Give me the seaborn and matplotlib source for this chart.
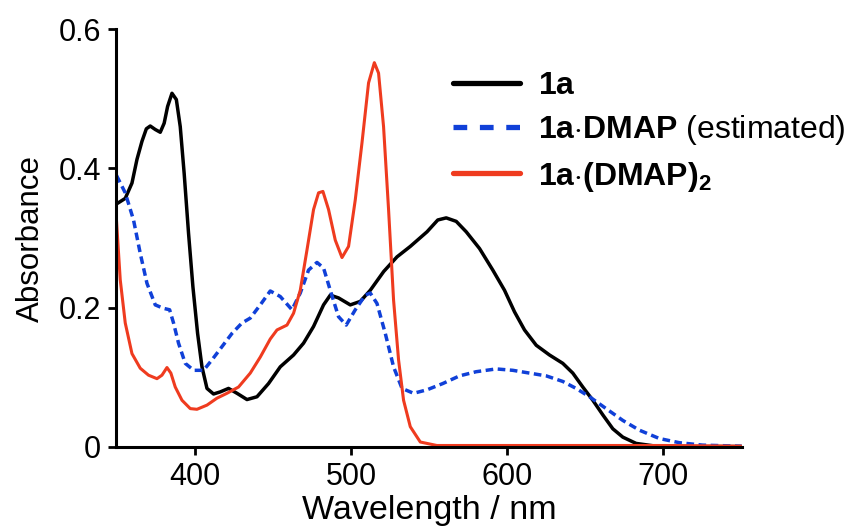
import numpy as np
import pandas as pd
import matplotlib
matplotlib.use("Agg")
import matplotlib.pyplot as plt
import seaborn as sns

## spectra (wavelength in nm, absorbance)
wl_1a = [350, 355.6, 359.9, 363.1, 366.3, 369.1, 371.6, 374.8, 378, 380.5, 382.7, 385.5,
         388.3, 390.8, 393.3, 396.1, 398.9, 401.9, 404.7, 407.9, 412.1, 416.4, 421.7, 427.1,
         433.5, 439.9, 447.3, 454.8, 463.3, 469.7, 476.1, 482.5, 486.8, 492.1, 499.6, 506,
         512.4, 521, 529.5, 538, 548.7, 555.6, 561, 567.4, 573.8, 582.3, 590.8, 598.3, 604.7,
         611.1, 618.6, 627.1, 635.6, 642, 648.4, 654.8, 661.2, 667.6, 674, 682.5, 695.3,
         720, 750]
abs_1a = [0.349, 0.357, 0.379, 0.413, 0.439, 0.457, 0.461, 0.456, 0.452, 0.465, 0.489, 0.508,
          0.499, 0.460, 0.393, 0.307, 0.230, 0.163, 0.115, 0.084, 0.076, 0.079, 0.084, 0.077,
          0.068, 0.072, 0.091, 0.115, 0.132, 0.149, 0.173, 0.204, 0.218, 0.214, 0.204, 0.209,
          0.225, 0.252, 0.273, 0.288, 0.309, 0.326, 0.329, 0.324, 0.309, 0.285, 0.254, 0.225,
          0.194, 0.168, 0.146, 0.132, 0.120, 0.106, 0.086, 0.067, 0.046, 0.026, 0.014, 0.005,
          0.001, 0.0005, 0.0005]

wl_mono = [350, 355.6, 360.9, 365.2, 369.5, 374.8, 380.1, 384, 386.5, 389.7, 394, 399.4,
           405.7, 411.1, 417.5, 423.9, 430.3, 435.6, 442, 448.4, 454.8, 462.3, 467.6, 472.9,
           478.3, 482.5, 486.8, 492.1, 497, 502.8, 509.2, 512.4, 516.7, 522, 527.3, 532.7,
           540.1, 548.7, 558.8, 569.5, 580.2, 593, 603.6, 614.3, 625, 635.6, 644.1, 652.7,
           663.3, 674, 684.6, 697.4, 710.2, 725.1, 750]
abs_mono = [0.390, 0.365, 0.326, 0.278, 0.235, 0.204, 0.199, 0.197, 0.178, 0.149, 0.120, 0.110,
            0.110, 0.125, 0.144, 0.163, 0.178, 0.185, 0.204, 0.224, 0.216, 0.197, 0.221, 0.254,
            0.265, 0.257, 0.225, 0.187, 0.175, 0.197, 0.218, 0.221, 0.206, 0.163, 0.115, 0.084,
            0.077, 0.082, 0.091, 0.102, 0.108, 0.112, 0.110, 0.106, 0.102, 0.094, 0.084, 0.072,
            0.055, 0.038, 0.024, 0.012, 0.006, 0.0025, 0.001]

wl_bis = [350, 352.4, 355.6, 359.9, 365.2, 370.5, 375.9, 379.1, 382.3, 384.8, 387.6, 391.9,
          397.2, 401.5, 407.9, 414.3, 420.7, 428.1, 435.6, 442, 448.4, 452.7, 459.1, 463.3,
          467.6, 471.9, 476.1, 479.3, 482.1, 485.7, 490, 494.3, 498.5, 502.8, 507.1, 511.3,
          515, 517.7, 520.9, 524.1, 527.3, 530.5, 533.7, 538, 544.4, 555, 620, 700, 750]
abs_bis = [0.325, 0.240, 0.178, 0.134, 0.113, 0.103, 0.098, 0.103, 0.114, 0.106, 0.086, 0.067,
           0.055, 0.054, 0.060, 0.070, 0.077, 0.086, 0.106, 0.129, 0.155, 0.168, 0.175, 0.192,
           0.225, 0.283, 0.341, 0.365, 0.367, 0.341, 0.297, 0.272, 0.288, 0.355, 0.437, 0.523,
           0.552, 0.537, 0.460, 0.341, 0.211, 0.125, 0.067, 0.029, 0.007, 0.002, 0.002, 0.002,
           0.001]

labels = [r"$\mathbf{1a}$",
          r"$\mathbf{1a{\cdot}DMAP}$ (estimated)",
          r"$\mathbf{1a{\cdot}(DMAP)_2}$"]
colors = ["black", "#1040d8", "#ef3b1f"]

sns.set_style("ticks")
plt.rcParams["font.family"] = ["Liberation Sans", "DejaVu Sans"]
plt.rcParams["mathtext.fontset"] = "custom"
plt.rcParams["mathtext.rm"] = "Liberation Sans"
plt.rcParams["mathtext.bf"] = "Liberation Sans:bold"
for k in ["text.color", "axes.labelcolor", "xtick.color", "ytick.color", "axes.edgecolor"]:
    plt.rcParams[k] = "black"

fig = plt.figure(figsize=(8.61, 5.32), dpi=100)
ax = fig.add_axes([0.1353, 0.160, 0.726, 0.785])

sns.lineplot(x=wl_1a, y=abs_1a, ax=ax, color=colors[0], lw=2.5, label=labels[0])
sns.lineplot(x=wl_mono, y=abs_mono, ax=ax, color=colors[1], lw=2.5, label=labels[1],
             linestyle=(0, (2.2, 1.3)))
sns.lineplot(x=wl_bis, y=abs_bis, ax=ax, color=colors[2], lw=2.2, label=labels[2])

ax.set_xlim(350, 750)
ax.set_ylim(0, 0.6)
ax.set_xticks([400, 500, 600, 700])
ax.set_yticks([0, 0.2, 0.4, 0.6])
ax.set_yticklabels(["0", "0.2", "0.4", "0.6"])
sns.despine(ax=ax)
for s in ["left", "bottom"]:
    ax.spines[s].set_linewidth(2.2)
ax.tick_params(width=2.0, length=6, labelsize=22, pad=5)

ax.set_xlabel("Wavelength / nm", fontsize=24.5, labelpad=2)
ax.set_ylabel("Absorbance", fontsize=22.5, labelpad=9)

leg = ax.legend(loc="upper left", bbox_to_anchor=(0.526, 0.866), bbox_transform=fig.transFigure,
                frameon=False, fontsize=23, handlelength=2.1, handletextpad=0.55,
                labelspacing=0.38, borderpad=0, borderaxespad=0)
for h in leg.get_lines():
    h.set_linewidth(3.8)
leg.get_lines()[1].set_linestyle((0, (2.6, 2.4)))

plt.savefig("out.png", dpi=100)
